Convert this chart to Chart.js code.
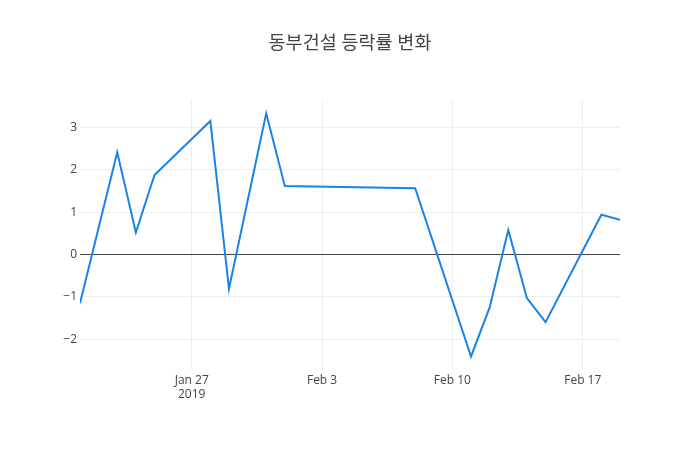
<!DOCTYPE html>
<html>
<head>
<meta charset="utf-8">
<script src="https://cdn.jsdelivr.net/npm/chart.js@4/dist/chart.umd.min.js"></script>
<style>
html,body{margin:0;padding:0;background:#fff;}
#wrap{width:700px;height:450px;}
</style>
</head>
<body>
<div id="wrap"><canvas id="c" width="700" height="450"></canvas></div>
<script>
const dates = ["2019-01-21","2019-01-23","2019-01-24","2019-01-25","2019-01-28","2019-01-29","2019-01-31","2019-02-01","2019-02-08","2019-02-11","2019-02-12","2019-02-13","2019-02-14","2019-02-15","2019-02-18","2019-02-19"];
const changes = [-1.15, 2.42, 0.52, 1.88, 3.16, -0.81, 3.34, 1.62, 1.57, -2.41, -1.25, 0.58, -1.03, -1.60, 0.94, 0.82];
const xTickDates = ["2019-01-27","2019-02-03","2019-02-10","2019-02-17"];
const xTickLabels = [["Jan 27","2019"],["Feb 3"],["Feb 10"],["Feb 17"]];
const yTicks = [-2,-1,0,1,2,3];
const title = "동부건설 등락률 변화";

const DAY = 86400000;
const toDay = s => { const p = s.split("-").map(Number); return Date.UTC(p[0], p[1]-1, p[2]) / DAY; };
const pts = dates.map((d,i) => ({x: toDay(d), y: changes[i]}));
const xTickVals = xTickDates.map(toDay);

const font = "'Open Sans', 'Noto Sans CJK KR', sans-serif";

new Chart(document.getElementById('c'), {
  type: 'line',
  data: { datasets: [{
    data: pts,
    borderColor: 'rgb(25,132,230)',
    borderWidth: 2,
    pointRadius: 0,
    tension: 0,
    fill: false
  }]},
  options: {
    responsive: false,
    animation: false,
    layout: { padding: 0 },
    plugins: {
      legend: { display: false },
      tooltip: { enabled: false },
      title: {
        display: true,
        text: title,
        color: '#444',
        font: { family: font, size: 18.5, weight: 'normal' },
        padding: { top: 33, bottom: 45 }
      }
    },
    scales: {
      x: {
        type: 'linear',
        min: toDay(dates[0]),
        max: toDay(dates[dates.length-1]),
        afterBuildTicks: s => { s.ticks = xTickVals.map(v => ({value: v})); },
        afterFit: s => { s.height = 80; },
        grid: { color: '#eee', drawTicks: false, lineWidth: 1 },
        border: { display: false },
        ticks: {
          color: '#444',
          font: { family: font, size: 12 },
          padding: 3,
          maxRotation: 0,
          autoSkip: false,
          callback: (v) => { const i = xTickVals.indexOf(v); return i >= 0 ? xTickLabels[i] : ''; }
        }
      },
      y: {
        min: -2.73,
        max: 3.65,
        afterBuildTicks: s => { s.ticks = yTicks.map(v => ({value: v})); },
        afterFit: s => { s.width = 80; },
        grid: {
          color: ctx => ctx.tick && ctx.tick.value === 0 ? '#444' : '#eee',
          lineWidth: 1,
          drawTicks: false
        },
        border: { display: false },
        ticks: {
          color: '#444',
          font: { family: font, size: 12 },
          padding: 3,
          callback: v => (v < 0 ? '\u2212' + Math.abs(v) : String(v))
        }
      },
      yRight: {
        position: 'right',
        min: 0,
        max: 1,
        afterFit: s => { s.width = 80; },
        grid: { display: false },
        border: { display: false },
        ticks: { display: false }
      }
    }
  }
});
</script>
</body>
</html>
